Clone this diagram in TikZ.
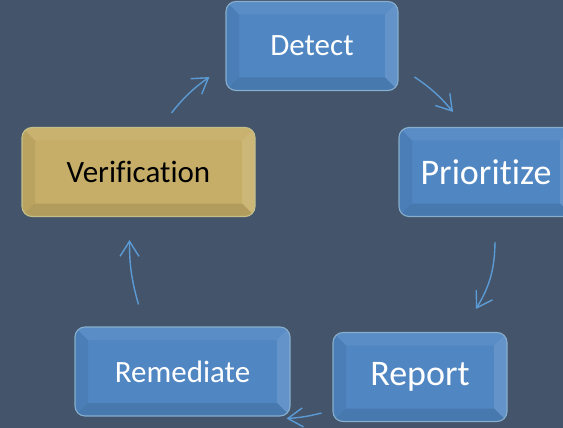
\documentclass[tikz,border=0pt]{standalone}
\usepackage{fontspec}
\setmainfont{Carlito}[Ligatures=CommonOff]
\usepackage{xcolor}
\usepackage{tikz}
\usetikzlibrary{arrows.meta}

\definecolor{slate}{HTML}{44546A}
\definecolor{btnblue}{HTML}{5086C2}
\definecolor{btnrim}{HTML}{86AECD}
\definecolor{btngold}{HTML}{C6AE68}
\definecolor{goldrim}{HTML}{C4C08A}
\definecolor{arrowblue}{HTML}{5B9BD5}

\begin{document}
\begin{tikzpicture}[
  x=1pt, y=-1pt,
  font=\fontsize{31}{31}\selectfont,
  bevel/.style={path picture={
    \path (path picture bounding box.north west) coordinate (nw)
          (path picture bounding box.north east) coordinate (ne)
          (path picture bounding box.south west) coordinate (sw)
          (path picture bounding box.south east) coordinate (se);
    \fill[white, opacity=.06, sharp corners] (nw) -- (ne) -- ([shift={(-13pt,-13pt)}]ne)
      -- ([shift={(13pt,-13pt)}]nw) -- cycle;
    \fill[black, opacity=.06, sharp corners] (nw) -- ([shift={(13pt,-13pt)}]nw)
      -- ([shift={(13pt,13pt)}]sw) -- (sw) -- cycle;
    \fill[white, opacity=.11, sharp corners] (ne) -- ([shift={(-13pt,-13pt)}]ne)
      -- ([shift={(-13pt,13pt)}]se) -- (se) -- cycle;
    \fill[black, opacity=.10, sharp corners] (sw) -- ([shift={(13pt,13pt)}]sw)
      -- ([shift={(-13pt,13pt)}]se) -- (se) -- cycle;
  }},
  btn/.style={
    bevel, draw=btnrim, line width=1.1pt, rounded corners=10pt,
    fill=btnblue, text=white, inner sep=0pt, minimum height=89pt
  },
  gold/.style={btn, draw=goldrim, fill=btngold, text=black},
  big/.style={font=\fontsize{36}{36}\selectfont},
  arr/.style={-{Straight Barb[length=15pt, width=19pt]}, line width=1.4pt, draw=arrowblue}
]
  \fill[slate] (0,0) rectangle (563,428);
  \useasboundingbox (0,0) rectangle (563,428);

  \node[btn, minimum width=172pt] (detect) at (312,46) {Detect};
  \node[btn, big, minimum width=174pt] (prio) at (486,172) {Prioritize};
  \node[btn, big, minimum width=174pt] (report) at (420,377) {Report};
  \node[btn, minimum width=215pt] (remed) at (182.5,371.5) {Remediate};
  \node[gold, minimum width=233pt] (verif) at (138.5,172) {Verification};

  \draw[arr] ([shift={(16,31)}]detect.east) to[bend left=8] ([shift={(-33,-15)}]prio.north);
  \draw[arr] ([shift={(9,25)}]prio.south) to[bend left=15] ([shift={(56,-23)}]report.north);
  \draw[arr] ([shift={(-11,-9)}]report.south west) to[bend left=5] ([shift={(-4,2)}]remed.south east);
  \draw[arr] ([shift={(-44,-22)}]remed.north) to[bend left=8] ([shift={(-9,23)}]verif.south);
  \draw[arr] ([shift={(33,-14)}]verif.north) to[bend left=8] ([shift={(-16,31)}]detect.west);
\end{tikzpicture}
\end{document}
